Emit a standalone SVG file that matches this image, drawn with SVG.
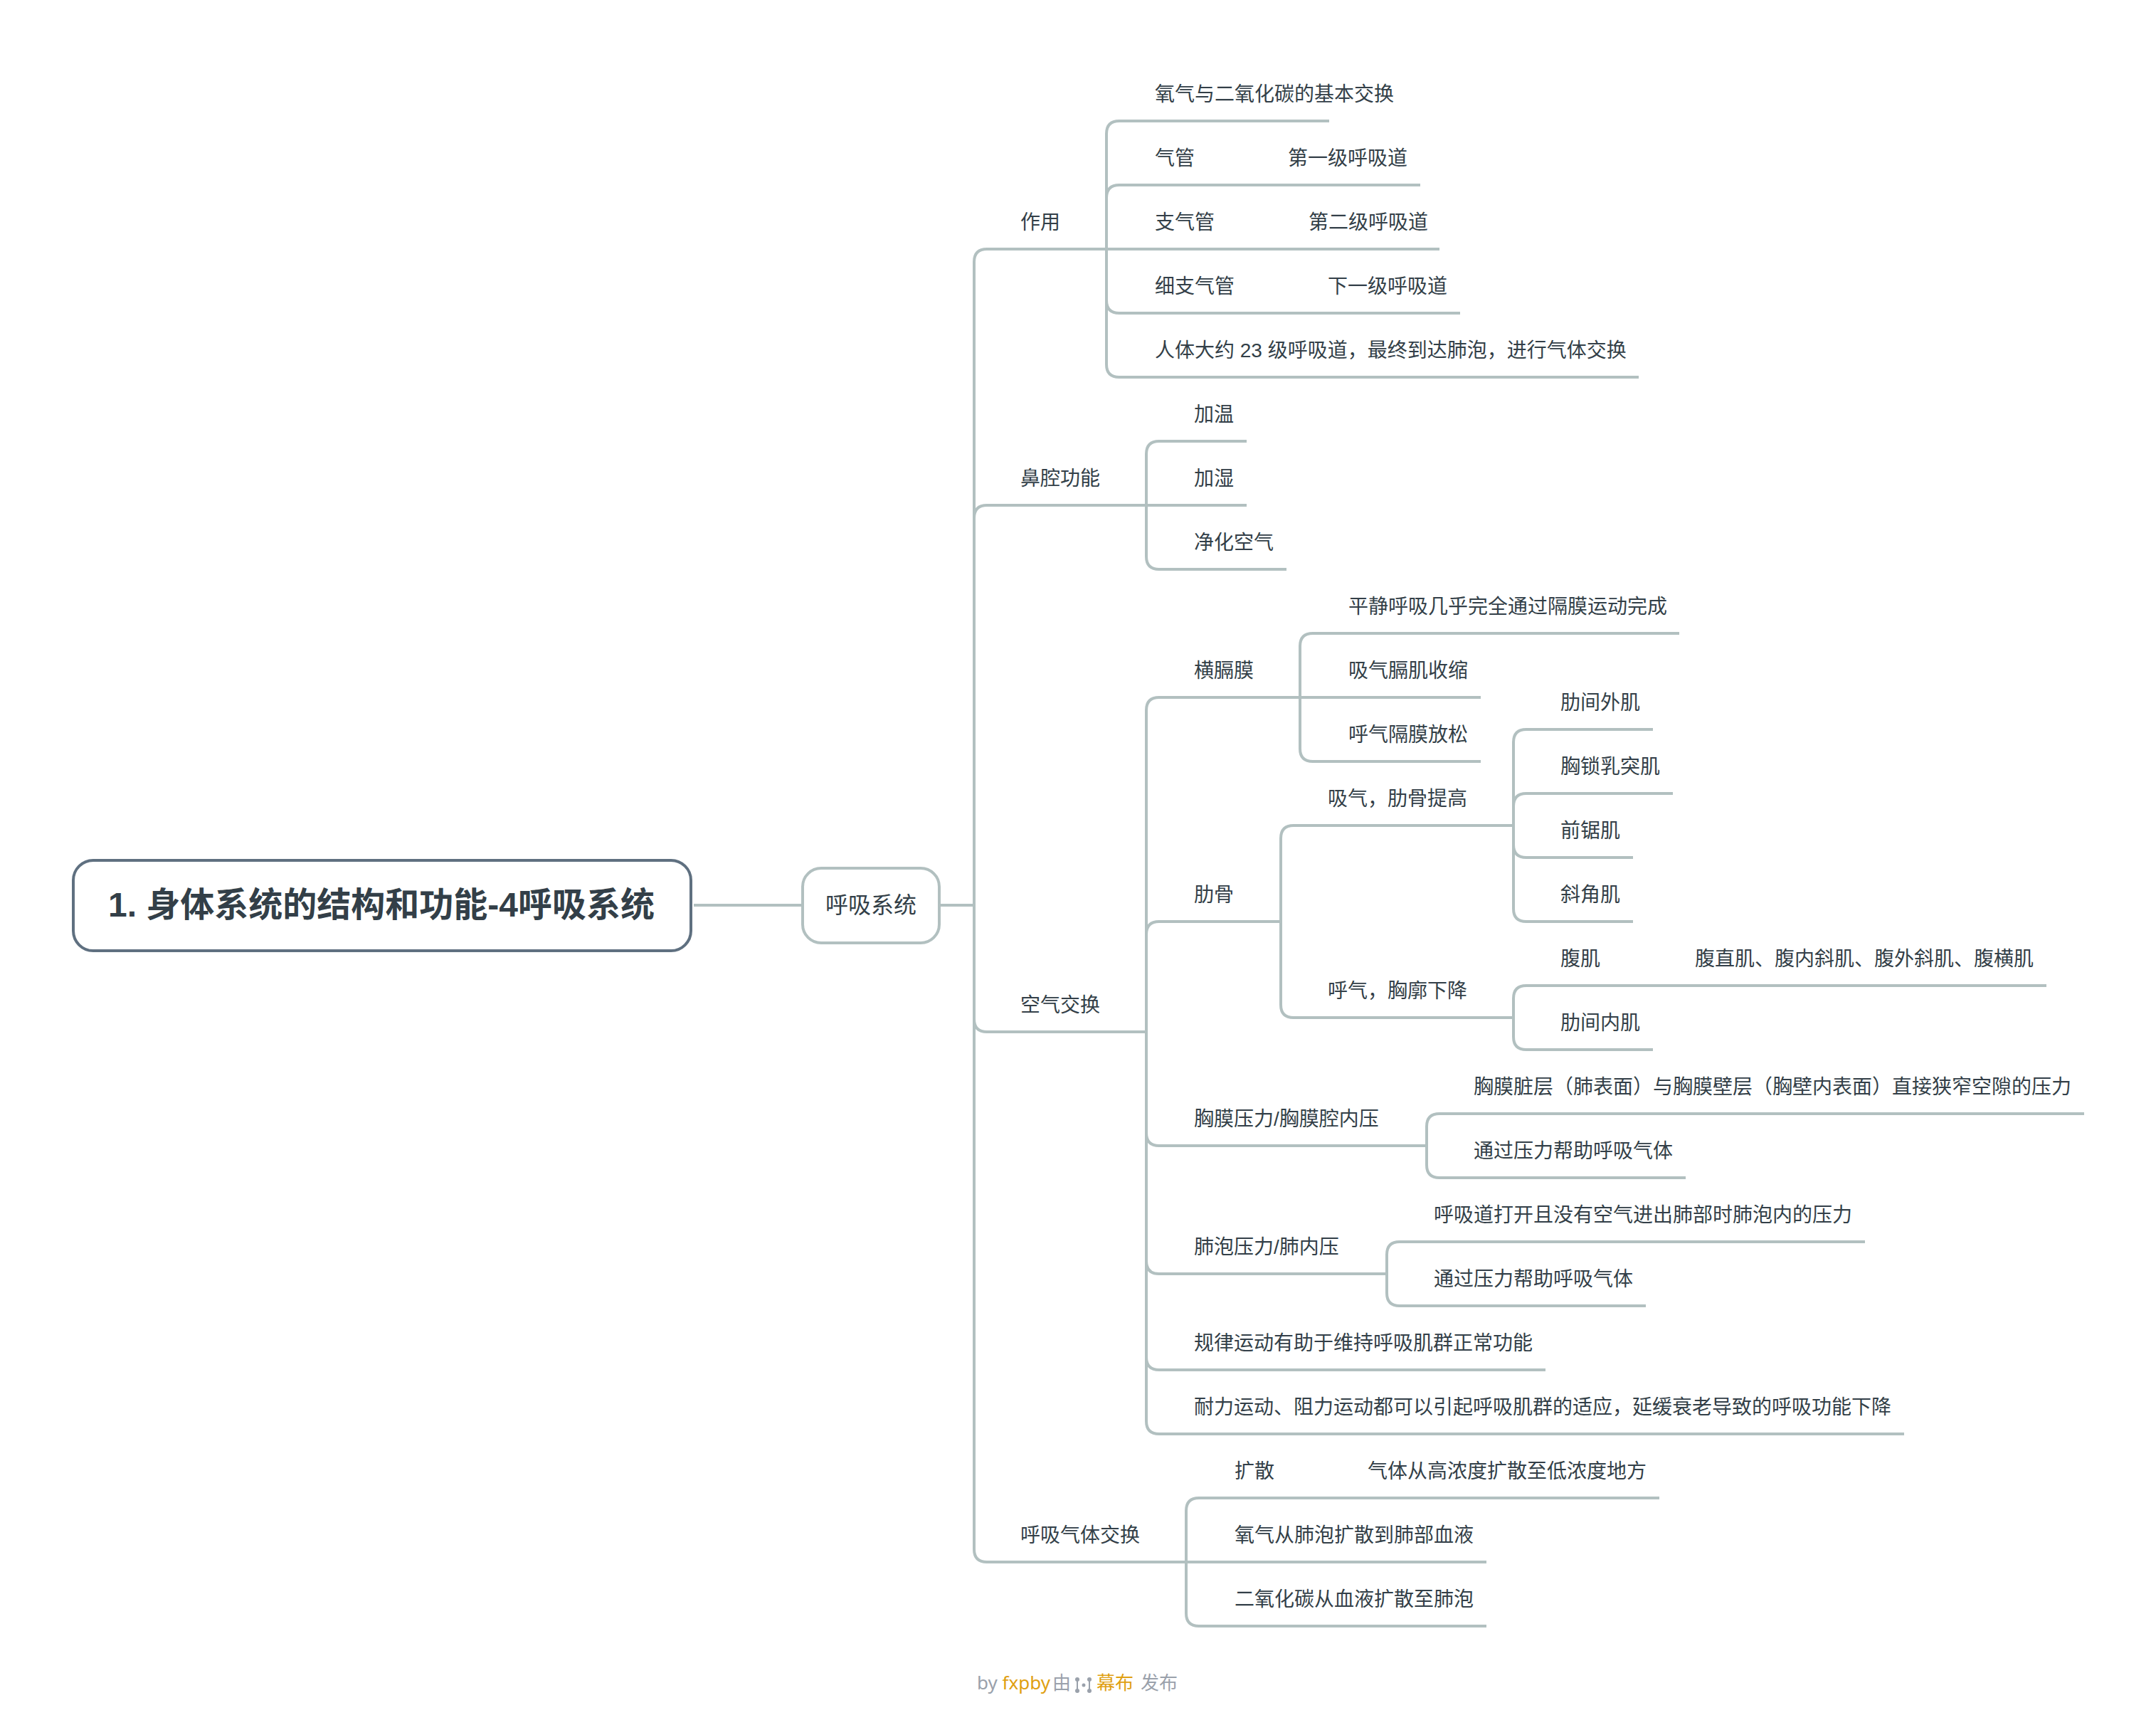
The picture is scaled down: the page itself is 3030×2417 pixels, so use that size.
<svg xmlns="http://www.w3.org/2000/svg" width="3030" height="2417" viewBox="0 0 3030 2417">
<style>
text{font-family:"Liberation Sans","Noto Sans CJK SC",sans-serif;fill:#333f48}
.t{font-size:28px}
.c{fill:none;stroke:#b2c0c0;stroke-width:4;stroke-linecap:butt}
.f{font-size:26px;fill:#9aa1ab;font-family:"Noto Sans","Noto Sans CJK SC",sans-serif}
.o{fill:#e0a012}
</style>
<rect width="3030" height="2417" fill="#fff"/>
<g id="connectors" class="c">
<path d="M975 1272H1128M1320 1272H1369"/>
<path d="M1369 1272V368Q1369 350 1387 350H2023"/>
<path d="M1369 1272V728Q1369 710 1387 710H1752"/>
<path d="M1369 1272V1432Q1369 1450 1387 1450H1611"/>
<path d="M1369 1272V2177Q1369 2195 1387 2195H2089"/>
<path d="M1555 350V188Q1555 170 1573 170H1868"/>
<path d="M1555 350V278Q1555 260 1573 260H1996"/>
<path d="M1555 350V422Q1555 440 1573 440H2052"/>
<path d="M1555 350V512Q1555 530 1573 530H2303"/>
<path d="M1611 710V638Q1611 620 1629 620H1752"/>
<path d="M1611 710V782Q1611 800 1629 800H1808"/>
<path d="M1611 1450V998Q1611 980 1629 980H2081"/>
<path d="M1611 1450V1313Q1611 1295 1629 1295H1800"/>
<path d="M1611 1450V1592Q1611 1610 1629 1610H2005"/>
<path d="M1611 1450V1772Q1611 1790 1629 1790H1949"/>
<path d="M1611 1450V1907Q1611 1925 1629 1925H2172"/>
<path d="M1611 1450V1997Q1611 2015 1629 2015H2676"/>
<path d="M1827 980V908Q1827 890 1845 890H2360"/>
<path d="M1827 980V1052Q1827 1070 1845 1070H2081"/>
<path d="M1800 1295V1178Q1800 1160 1818 1160H2127"/>
<path d="M1800 1295V1412Q1800 1430 1818 1430H2127"/>
<path d="M2127 1160V1043Q2127 1025 2145 1025H2323"/>
<path d="M2127 1160V1133Q2127 1115 2145 1115H2351"/>
<path d="M2127 1160V1187Q2127 1205 2145 1205H2295"/>
<path d="M2127 1160V1277Q2127 1295 2145 1295H2295"/>
<path d="M2127 1430V1403Q2127 1385 2145 1385H2876"/>
<path d="M2127 1430V1457Q2127 1475 2145 1475H2323"/>
<path d="M2005 1610V1583Q2005 1565 2023 1565H2929"/>
<path d="M2005 1610V1637Q2005 1655 2023 1655H2369"/>
<path d="M1949 1790V1763Q1949 1745 1967 1745H2621"/>
<path d="M1949 1790V1817Q1949 1835 1967 1835H2313"/>
<path d="M1667 2195V2123Q1667 2105 1685 2105H2332"/>
<path d="M1667 2195V2267Q1667 2285 1685 2285H2089"/>
</g>
<g id="root"><rect x="103" y="1209" width="868" height="127" rx="28" fill="#fff" stroke="#5f7080" stroke-width="4"/><text x="152" y="1288" style="font-size:48px;font-weight:bold">1. 身体系统的结构和功能-4呼吸系统</text></g>
<g id="n-main"><rect x="1128" y="1220" width="192" height="105" rx="26" fill="#fff" stroke="#b2c0c0" stroke-width="4"/><text x="1160" y="1283" style="font-size:32px">呼吸系统</text></g>
<g id="n1" class="t"><text x="1434" y="322">作用</text></g>
<g id="n1a" class="t"><text x="1623" y="142">氧气与二氧化碳的基本交换</text></g>
<g id="n1b" class="t"><text x="1623" y="232">气管</text><text x="1810" y="232">第一级呼吸道</text></g>
<g id="n1c" class="t"><text x="1623" y="322">支气管</text><text x="1839" y="322">第二级呼吸道</text></g>
<g id="n1d" class="t"><text x="1623" y="412">细支气管</text><text x="1866" y="412">下一级呼吸道</text></g>
<g id="n1e" class="t"><text x="1623" y="502">人体大约 23 级呼吸道，最终到达肺泡，进行气体交换</text></g>
<g id="n2" class="t"><text x="1434" y="682">鼻腔功能</text></g>
<g id="n2a" class="t"><text x="1678" y="592">加温</text></g>
<g id="n2b" class="t"><text x="1678" y="682">加湿</text></g>
<g id="n2c" class="t"><text x="1678" y="772">净化空气</text></g>
<g id="n3" class="t"><text x="1434" y="1422">空气交换</text></g>
<g id="n3a" class="t"><text x="1678" y="952">横膈膜</text></g>
<g id="n3a1" class="t"><text x="1895" y="862">平静呼吸几乎完全通过隔膜运动完成</text></g>
<g id="n3a2" class="t"><text x="1895" y="952">吸气膈肌收缩</text></g>
<g id="n3a3" class="t"><text x="1895" y="1042">呼气隔膜放松</text></g>
<g id="n3b" class="t"><text x="1678" y="1267">肋骨</text></g>
<g id="n3b1" class="t"><text x="1866" y="1132">吸气，肋骨提高</text></g>
<g id="n3b1a" class="t"><text x="2193" y="997">肋间外肌</text></g>
<g id="n3b1b" class="t"><text x="2193" y="1087">胸锁乳突肌</text></g>
<g id="n3b1c" class="t"><text x="2193" y="1177">前锯肌</text></g>
<g id="n3b1d" class="t"><text x="2193" y="1267">斜角肌</text></g>
<g id="n3b2" class="t"><text x="1866" y="1402">呼气，胸廓下降</text></g>
<g id="n3b2a" class="t"><text x="2193" y="1357">腹肌</text><text x="2382" y="1357">腹直肌、腹内斜肌、腹外斜肌、腹横肌</text></g>
<g id="n3b2b" class="t"><text x="2193" y="1447">肋间内肌</text></g>
<g id="n3c" class="t"><text x="1678" y="1582">胸膜压力/胸膜腔内压</text></g>
<g id="n3c1" class="t"><text x="2071" y="1537">胸膜脏层（肺表面）与胸膜壁层（胸壁内表面）直接狭窄空隙的压力</text></g>
<g id="n3c2" class="t"><text x="2071" y="1627">通过压力帮助呼吸气体</text></g>
<g id="n3d" class="t"><text x="1678" y="1762">肺泡压力/肺内压</text></g>
<g id="n3d1" class="t"><text x="2015" y="1717">呼吸道打开且没有空气进出肺部时肺泡内的压力</text></g>
<g id="n3d2" class="t"><text x="2015" y="1807">通过压力帮助呼吸气体</text></g>
<g id="n3e" class="t"><text x="1678" y="1897">规律运动有助于维持呼吸肌群正常功能</text></g>
<g id="n3f" class="t"><text x="1678" y="1987">耐力运动、阻力运动都可以引起呼吸肌群的适应，延缓衰老导致的呼吸功能下降</text></g>
<g id="n4" class="t"><text x="1434" y="2167">呼吸气体交换</text></g>
<g id="n4a" class="t"><text x="1735" y="2077">扩散</text><text x="1922" y="2077">气体从高浓度扩散至低浓度地方</text></g>
<g id="n4b" class="t"><text x="1735" y="2167">氧气从肺泡扩散到肺部血液</text></g>
<g id="n4c" class="t"><text x="1735" y="2257">二氧化碳从血液扩散至肺泡</text></g>
<g id="footer">
<text class="f" x="1373" y="2374">by <tspan class="o">fxpby</tspan></text>
<text class="f" x="1479" y="2374">由</text>
<g fill="#9aa1ab" stroke="none"><circle cx="1514" cy="2360" r="3"/><circle cx="1531" cy="2360" r="3"/><circle cx="1514" cy="2376" r="3"/><circle cx="1531" cy="2376" r="3"/><circle cx="1523" cy="2368" r="2.5"/><rect x="1513" y="2360" width="2" height="16"/><rect x="1530" y="2360" width="2" height="16"/></g>
<text class="f o" x="1541" y="2374" style="fill:#e0a012">幕布</text>
<text class="f" x="1603" y="2374">发布</text>
</g>
</svg>
